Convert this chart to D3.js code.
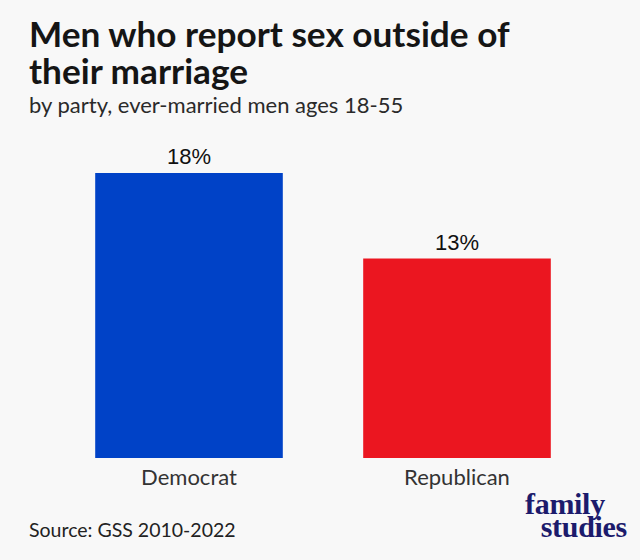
<!DOCTYPE html>
<html>
<head>
<meta charset="utf-8">
<script src="https://cdn.jsdelivr.net/npm/d3@7"></script>
<style>
  html, body { margin: 0; padding: 0; background: #f8f8f8; }
  svg { display: block; }
</style>
</head>
<body>
<svg id="chart"></svg>
<script>
// data
const parties = ["Democrat", "Republican"];
const shares = [18.0, 12.6];
const barColors = ["#0042c7", "#eb1620"];

const titleLines = ["Men who report sex outside of", "their marriage"];
const subtitle = "by party, ever-married men ages 18-55";
const source = "Source: GSS 2010-2022";
const logoLines = ["family", "studies"];

const width = 640, height = 560;
const baseY = 458, topY = 173;

const svg = d3.select("#chart").attr("width", width).attr("height", height);

svg.append("rect")
  .attr("width", width)
  .attr("height", height)
  .attr("fill", "#f8f8f8");

// title + subtitle
svg.append("g")
  .selectAll("text")
  .data(titleLines)
  .enter()
  .append("text")
  .attr("x", 29)
  .attr("y", (d, i) => 47 + i * 36.5)
  .attr("font-family", "Lato")
  .attr("font-weight", 700)
  .attr("font-size", 35.2)
  .attr("fill", "#151515")
  .text((d) => d);

svg.append("text")
  .attr("x", 29)
  .attr("y", 113)
  .attr("font-family", "Lato")
  .attr("font-size", 22)
  .attr("fill", "#2a2a2a")
  .text(subtitle);

const x = d3.scaleBand()
  .domain(parties)
  .range([55, 591])
  .paddingInner(0.3)
  .paddingOuter(0.15);

const y = d3.scaleLinear()
  .domain([0, d3.max(shares)])
  .range([baseY, topY]);

const rows = parties.map((p, i) => ({ party: p, value: shares[i], color: barColors[i] }));

svg.append("g")
  .selectAll("rect")
  .data(rows)
  .enter()
  .append("rect")
  .attr("x", (d) => x(d.party))
  .attr("y", (d) => y(d.value))
  .attr("width", x.bandwidth())
  .attr("height", (d) => baseY - y(d.value))
  .attr("fill", (d) => d.color);

svg.append("g")
  .selectAll("text")
  .data(rows)
  .enter()
  .append("text")
  .attr("x", (d) => x(d.party) + x.bandwidth() / 2)
  .attr("y", (d) => y(d.value) - 9)
  .attr("text-anchor", "middle")
  .attr("font-family", "Liberation Sans, Arial, sans-serif")
  .attr("font-size", 22)
  .attr("fill", "#111")
  .text((d) => d3.format(".0f")(d.value) + "%");

// category axis, no line or ticks
const xAxis = svg.append("g")
  .attr("transform", `translate(0,${baseY})`)
  .call(d3.axisBottom(x).tickSize(0).tickPadding(11));
xAxis.select(".domain").remove();
xAxis.selectAll("text")
  .attr("font-family", "Lato")
  .attr("font-size", 22)
  .attr("fill", "#333");

svg.append("text")
  .attr("x", 29)
  .attr("y", 537)
  .attr("font-family", "Lato")
  .attr("font-size", 19.5)
  .attr("fill", "#222")
  .text(source);

// logo
svg.append("g")
  .selectAll("text")
  .data(logoLines)
  .enter()
  .append("text")
  .attr("x", 627)
  .attr("y", (d, i) => 514 + i * 23)
  .attr("text-anchor", (d, i) => (i === 0 ? "start" : "end"))
  .attr("dx", (d, i) => (i === 0 ? -102 : 0))
  .attr("font-family", "Liberation Serif, serif")
  .attr("font-weight", 700)
  .attr("font-size", 30)
  .attr("letter-spacing", -0.3)
  .attr("fill", "#1c1b6c")
  .text((d) => d);
</script>
</body>
</html>
